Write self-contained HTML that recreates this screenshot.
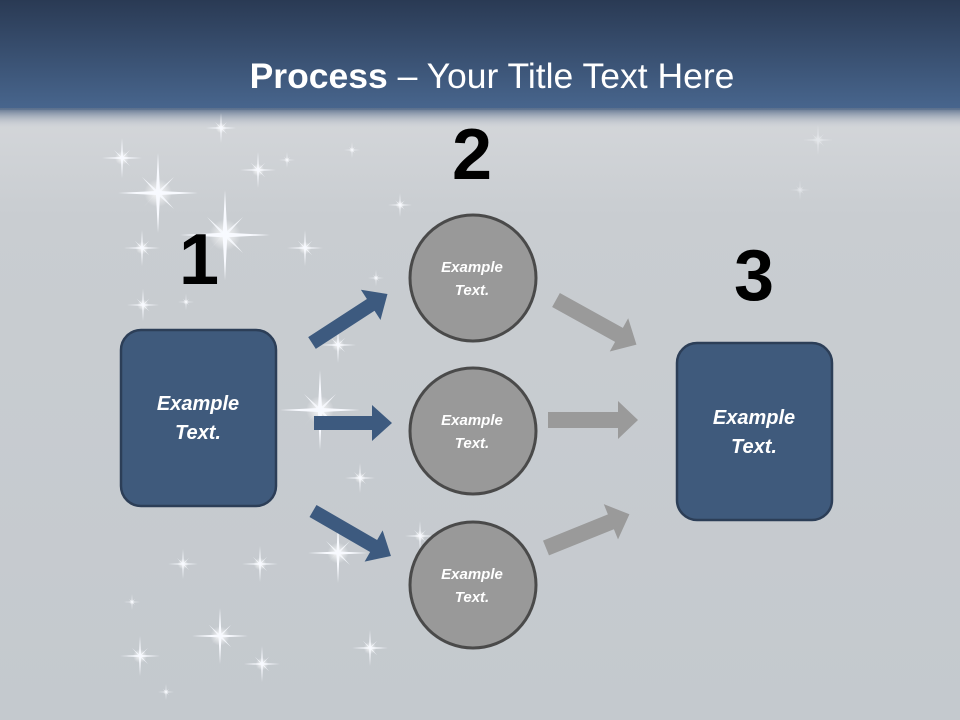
<!DOCTYPE html>
<html><head><meta charset="utf-8"><style>
html,body{margin:0;padding:0;width:960px;height:720px;overflow:hidden}
svg{display:block}
</style></head><body>
<svg width="960" height="720" viewBox="0 0 960 720" xmlns="http://www.w3.org/2000/svg">
<defs>
<linearGradient id="top" x1="0" y1="0" x2="0" y2="1">
<stop offset="0" stop-color="#2a3a54"/><stop offset="1" stop-color="#48668e"/></linearGradient>
<linearGradient id="bg" x1="0" y1="0" x2="0" y2="1">
<stop offset="0" stop-color="#e0e1e4"/><stop offset="0.3" stop-color="#c9cdd1"/><stop offset="1" stop-color="#c4c9ce"/></linearGradient>
<linearGradient id="fade" x1="0" y1="0" x2="0" y2="1">
<stop offset="0" stop-color="#5a6f8c"/><stop offset="1" stop-color="#dcdde0" stop-opacity="0"/></linearGradient>
<radialGradient id="glow"><stop offset="0" stop-color="#fff" stop-opacity="0.9"/><stop offset="1" stop-color="#fff" stop-opacity="0"/></radialGradient>
<g id="sp">
<circle r="0.35" fill="url(#glow)"/>
<polygon points="0,-1 0.05,-0.05 1,0 0.05,0.05 0,1 -0.05,0.05 -1,0 -0.05,-0.05" fill="#f8faff"/>
<polygon points="-0.4,-0.4 0.05,0 0.4,0.4 0,0.05 0.4,-0.4 0,-0.05 -0.4,0.4 -0.05,0" fill="#f8faff" opacity="0.85"/>
</g>
</defs>
<rect width="960" height="720" fill="url(#bg)"/>
<rect width="960" height="110" fill="url(#top)"/>
<rect y="108" width="960" height="22" fill="url(#fade)"/>
<g>
<use href="#sp" transform="translate(158,193) scale(40)"/>
<use href="#sp" transform="translate(225,235) scale(45)"/>
<use href="#sp" transform="translate(122,158) scale(20)"/>
<use href="#sp" transform="translate(258,170) scale(18)"/>
<use href="#sp" transform="translate(287,160) scale(8)"/>
<use href="#sp" transform="translate(142,248) scale(18)"/>
<use href="#sp" transform="translate(305,248) scale(18)"/>
<use href="#sp" transform="translate(186,302) scale(8)"/>
<use href="#sp" transform="translate(143,305) scale(16)"/>
<use href="#sp" transform="translate(320,410) scale(40)"/>
<use href="#sp" transform="translate(338,345) scale(18)"/>
<use href="#sp" transform="translate(360,478) scale(15)"/>
<use href="#sp" transform="translate(260,564) scale(18)"/>
<use href="#sp" transform="translate(183,564) scale(15)"/>
<use href="#sp" transform="translate(338,553) scale(30)"/>
<use href="#sp" transform="translate(132,602) scale(8)"/>
<use href="#sp" transform="translate(220,636) scale(28)"/>
<use href="#sp" transform="translate(140,656) scale(20)"/>
<use href="#sp" transform="translate(262,664) scale(18)"/>
<use href="#sp" transform="translate(370,648) scale(18)"/>
<use href="#sp" transform="translate(166,692) scale(8)"/>
<use href="#sp" transform="translate(221,128) scale(15)"/>
<use href="#sp" transform="translate(400,205) scale(12)"/>
<use href="#sp" transform="translate(352,150) scale(8)"/>
<use href="#sp" transform="translate(420,536) scale(15)"/>
<use href="#sp" transform="translate(376,278) scale(8)"/>
<use href="#sp" transform="translate(800,190) scale(10)" opacity="0.5"/>
<use href="#sp" transform="translate(818,140) scale(15)" opacity="0.5"/>
</g>
<text x="492" y="88" text-anchor="middle" font-family="Liberation Sans, sans-serif" font-size="35.5" fill="#fff"><tspan font-weight="bold">Process</tspan> – Your Title Text Here</text>
<g font-family="Liberation Sans, sans-serif" font-weight="bold" font-size="72" fill="#000" text-anchor="middle">
<text x="199" y="284">1</text><text x="472" y="179">2</text><text x="754" y="300">3</text></g>
<g fill="#3d5a7f">
<polygon points="0,-7 58,-7 58,-18 78,0 58,18 58,7 0,7" transform="translate(314,423)"/>
<polygon points="0,-7 70,-7 70,-18 90,0 70,18 70,7 0,7" transform="translate(312,343) rotate(-33)"/>
<polygon points="0,-7 70,-7 70,-18 90,0 70,18 70,7 0,7" transform="translate(313,511) rotate(30)"/>
</g>
<g fill="#9a9a9a">
<polygon points="0,-8 70,-8 70,-19 90,0 70,19 70,8 0,8" transform="translate(548,420)"/>
<polygon points="0,-8 72,-8 72,-19 92,0 72,19 72,8 0,8" transform="translate(556,300) rotate(29)"/>
<polygon points="0,-8 70,-8 70,-19 90,0 70,19 70,8 0,8" transform="translate(546,548) rotate(-22)"/>
</g>
<rect x="121" y="330" width="155" height="176" rx="20" fill="#3f5a7c" stroke="#2c3e57" stroke-width="2.5"/>
<rect x="677" y="343" width="155" height="177" rx="20" fill="#3f5a7c" stroke="#2c3e57" stroke-width="2.5"/>
<g fill="#999" stroke="#4a4a4a" stroke-width="3">
<circle cx="473" cy="278" r="63"/><circle cx="473" cy="431" r="63"/><circle cx="473" cy="585" r="63"/></g>
<g font-family="Liberation Sans, sans-serif" font-weight="bold" font-style="italic" fill="#fff" text-anchor="middle">
<g font-size="20"><text x="198" y="410">Example</text><text x="198" y="439">Text.</text>
<text x="754" y="424">Example</text><text x="754" y="453">Text.</text></g>
<g font-size="15"><text x="472" y="272">Example</text><text x="472" y="295">Text.</text>
<text x="472" y="425">Example</text><text x="472" y="448">Text.</text>
<text x="472" y="579">Example</text><text x="472" y="602">Text.</text></g>
</g>
</svg>
</body></html>
